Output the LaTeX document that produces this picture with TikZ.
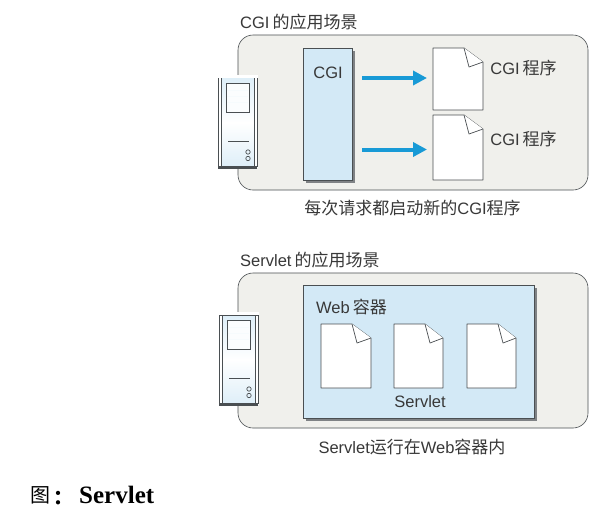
\documentclass[tikz,border=0pt]{standalone}
\usepackage{fontspec}
\setmainfont{Liberation Serif}
\newfontfamily\cjksans{Noto Sans CJK SC}
\newfontfamily\cjkcolon{Noto Sans CJK TC}
\newfontfamily\latsans{Liberation Sans}
\usetikzlibrary{arrows.meta}
\definecolor{panelfill}{HTML}{F0F0EC}
\definecolor{boxblue}{HTML}{D3E9F6}
\definecolor{arrowblue}{HTML}{189AD6}
\definecolor{inkgray}{HTML}{4A4F52}
\definecolor{shadowgray}{HTML}{7F8285}
\newcommand{\lsn}[1]{{\latsans\fontsize{16.5}{18}\selectfont #1}}
\tikzset{
  panel/.style={draw=inkgray,line width=0.6pt,fill=panelfill,rounded corners=15pt},
  bluebox/.style={draw=inkgray,line width=0.7pt,fill=boxblue},
  boxshadow/.style={fill=shadowgray,draw=none},
  pagefill/.style={draw=inkgray,line width=0.7pt,fill=white,line join=round},
  flow/.style={draw=arrowblue,line width=4pt,-{Triangle[length=14pt,width=14pt]}},
  lab/.style={font=\cjksans\fontsize{17}{19}\selectfont,text=black!78,inner sep=0pt},
  towerline/.style={draw=inkgray,line width=0.8pt},
}
\newcommand{\pagedoc}[5]{% name, left, top, right, bottom
  \path[pagefill] (#2,#3) -- (#2+31,#3) -- (#4,#3+14) -- (#4,#5) -- (#2,#5) -- cycle;
  \path[pagefill] (#2+31,#3) -- (#2+36,#3+19) -- (#4,#3+14);
  \coordinate (#1) at (#2,{(#3+#5)/2});
}
\newcommand{\towerbox}[2]{% left x, top y; 39 x 90
  \fill[white] (#1-1,#2-3) rectangle (#1+40,#2+90);
  \shade[left color=boxblue!75,right color=boxblue!75,middle color=white,shading angle=0]
     (#1+3,#2) rectangle (#1+36,#2+89);
  \draw[towerline] (#1,#2) -- (#1,#2+89);
  \draw[towerline] (#1+3,#2) -- (#1+3,#2+89);
  \draw[towerline] (#1+36,#2) -- (#1+36,#2+89);
  \draw[towerline] (#1+39,#2) -- (#1+39,#2+89);
  \fill[inkgray] (#1,#2+88) rectangle (#1+39,#2+91);
  \draw[towerline,fill=white!92!boxblue] (#1+8,#2+5) rectangle (#1+31,#2+34);
  \draw[white!80!boxblue,line width=1pt] (#1+9,#2+12) -- (#1+30,#2+12) (#1+9,#2+18) -- (#1+30,#2+18) (#1+9,#2+24) -- (#1+30,#2+24);
  \draw[towerline] (#1+10,#2+63) -- (#1+31,#2+63);
  \draw[towerline,line width=0.7pt] (#1+30,#2+74) circle (2.2pt) (#1+30,#2+80.5) circle (2.2pt);
}
\begin{document}
\begin{tikzpicture}[x=1pt,y=-1pt]
\useasboundingbox (0,0) rectangle (609,517);
\fill[white] (0,0) rectangle (609,517);
% top panel
\node[lab,anchor=west] (t1) at (240,22) {\lsn{CGI}\hspace{3pt}的应用场景};
\draw[panel] (238,35) rectangle (588,190);
\towerbox{218}{78}
\fill[boxshadow] (306,51) rectangle (355,183);
\node[bluebox,minimum width=49pt,minimum height=132pt,inner sep=0pt,anchor=north west] (cgi) at (303,48) {};
\node[lab] (cgilab) at (328,73) {\lsn{CGI}};
\pagedoc{d1}{433}{48}{483}{110}
\pagedoc{d2}{433}{115}{483}{180}
\coordinate (a1s) at (362,78);
\coordinate (a1e) at (427,78);
\coordinate (a2s) at (362,149.5);
\coordinate (a2e) at (427,149.5);
\draw[flow] (a1s) -- (a1e);
\draw[flow] (a2s) -- (a2e);
\node[lab] (l1) at (523.5,68.5) {\lsn{CGI}\hspace{3pt}程序};
\node[lab] (l2) at (523.5,139.5) {\lsn{CGI}\hspace{3pt}程序};
\node[lab] (c1) at (412.5,208.5) {每次请求都启动新的\lsn{CGI}程序};
% bottom panel
\node[lab,anchor=west] (t2) at (240,260) {\lsn{Servlet}\hspace{3pt}的应用场景};
\draw[panel] (238,273) rectangle (588,428);
\towerbox{219}{315}
\draw[towerline] (219,315) -- (258,315);
\fill[boxshadow] (306,288) rectangle (537,421);
\node[bluebox,minimum width=231pt,minimum height=133pt,inner sep=0pt,anchor=north west] (web) at (303,285) {};
\node[lab,anchor=west] (webl) at (316,306.5) {\lsn{Web}\hspace{3pt}容器};
\pagedoc{s1}{321}{324}{371}{388}
\pagedoc{s2}{394}{324}{443}{388}
\pagedoc{s3}{467}{324}{516}{388}
\node[lab] (sl) at (420,402) {\lsn{Servlet}};
\node[lab] (c2) at (412,447) {\lsn{Servlet}运行在\lsn{Web}容器内};
% caption
\node[inner sep=0pt,anchor=west,font=\cjksans\fontsize{20}{22}\selectfont] (fig) at (30,495) {图};
\node[inner sep=0pt,anchor=west,font=\cjkcolon\bfseries\fontsize{20}{22}\selectfont] (figc) at (48,498) {：};
\node[inner sep=0pt,anchor=west,font=\bfseries\fontsize{25}{27}\selectfont] (figs) at (79,495) {Servlet};
\end{tikzpicture}
\end{document}
